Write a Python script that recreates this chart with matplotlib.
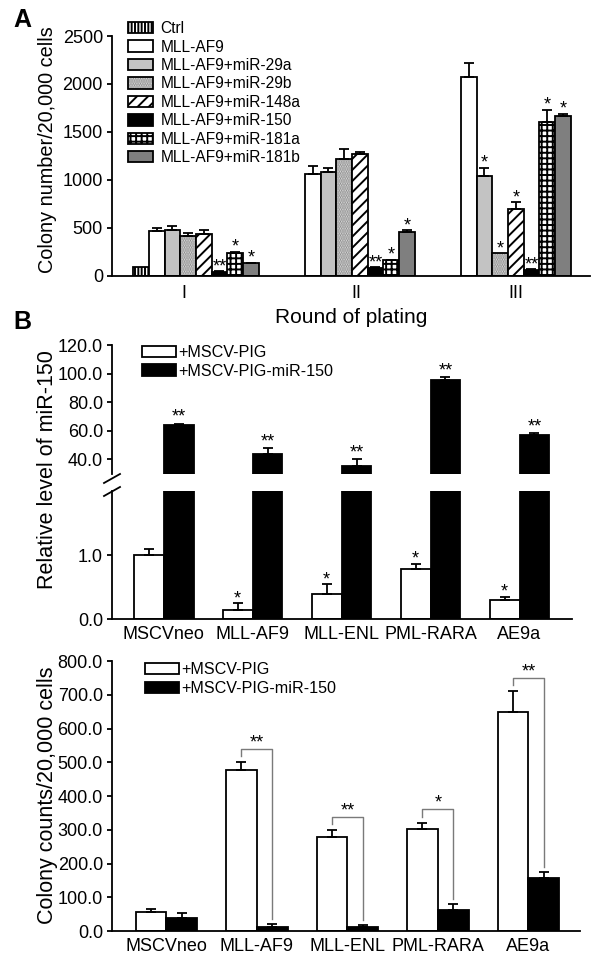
import matplotlib
matplotlib.use('Agg')
import matplotlib.pyplot as plt
from matplotlib.lines import Line2D
import numpy as np

plt.rcParams['font.family'] = ['Liberation Sans', 'DejaVu Sans']
plt.rcParams['hatch.linewidth'] = 1.4

# ---- panel A: colony numbers per round of plating ----
rounds = ['I', 'II', 'III']
series_a = ['Ctrl', 'MLL-AF9', 'MLL-AF9+miR-29a', 'MLL-AF9+miR-29b',
            'MLL-AF9+miR-148a', 'MLL-AF9+miR-150', 'MLL-AF9+miR-181a',
            'MLL-AF9+miR-181b']
ctrl = [85, np.nan, np.nan]
ctrl_err = [0, 0, 0]
mll_af9 = [460, 1060, 2070]
mll_af9_err = [35, 80, 150]
mir29a = [480, 1080, 1040]
mir29a_err = [35, 40, 85]
mir29b = [410, 1220, 230]
mir29b_err = [35, 100, 0]
mir148a = [430, 1270, 690]
mir148a_err = [45, 15, 75]
mir150 = [40, 80, 60]
mir150_err = [5, 5, 5]
mir181a = [235, 160, 1600]
mir181a_err = [15, 5, 130]
mir181b = [130, 450, 1660]
mir181b_err = [5, 25, 30]
stars_29a = ['', '', '*']
stars_29b = ['', '', '*']
stars_148a = ['', '', '*']
stars_150 = ['**', '**', '**']
stars_181a = ['*', '*', '*']
stars_181b = ['*', '*', '*']

# ---- panel B: relative miR-150 level ----
cell_lines = ['MSCVneo', 'MLL-AF9', 'MLL-ENL', 'PML-RARA', 'AE9a']
rel_pig = [1.0, 0.14, 0.39, 0.78, 0.30]
rel_pig_err = [0.1, 0.11, 0.15, 0.08, 0.05]
rel_mir150 = [64.0, 43.5, 35.5, 95.5, 57.0]
rel_mir150_err = [0.8, 4.2, 4.5, 2.0, 1.2]
rel_pig_stars = ['', '*', '*', '*', '*']
rel_mir150_stars = ['**', '**', '**', '**', '**']

# ---- panel C: colony counts ----
col_pig = [57, 478, 280, 303, 650]
col_pig_err = [8, 22, 18, 18, 60]
col_mir150 = [38, 13, 12, 62, 157]
col_mir150_err = [15, 8, 6, 17, 18]
col_stars = ['', '**', '**', '*', '**']

legend_b = ['+MSCV-PIG', '+MSCV-PIG-miR-150']

W, H = 601, 955
fig = plt.figure(figsize=(W / 100, H / 100), dpi=100)


def px_axes(x0, y0, x1, y1):
    return fig.add_axes([x0 / W, 1 - y1 / H, (x1 - x0) / W, (y1 - y0) / H])


def style_axes(ax, bottom=True):
    ax.spines['top'].set_visible(False)
    ax.spines['right'].set_visible(False)
    ax.spines['left'].set_linewidth(1.3)
    ax.spines['bottom'].set_linewidth(1.3)
    if not bottom:
        ax.spines['bottom'].set_visible(False)
    ax.tick_params(axis='y', direction='out', length=3.5, width=1.3, labelsize=13, pad=3)
    ax.tick_params(axis='x', length=0, labelsize=13, pad=5)


def draw_bars(ax, x, vals, width, face, hatch=None, hcolor='black'):
    fill = ax.bar(x, vals, width, color=face, edgecolor=hcolor, hatch=hatch, linewidth=0)
    edge = ax.bar(x, vals, width, facecolor='none', edgecolor='black', linewidth=1.3)
    return fill.patches[0], edge.patches[0]


def draw_err(ax, x, vals, errs):
    x = np.asarray(x, float)
    vals = np.asarray(vals, float)
    errs = np.asarray(errs, float)
    ok = ~np.isnan(vals) & (errs > 0)
    ax.errorbar(x[ok], vals[ok], yerr=[np.zeros(ok.sum()), errs[ok]], fmt='none',
                ecolor='black', elinewidth=1.3, capsize=3.8, capthick=1.3)


def draw_stars(ax, x, vals, errs, stars, dy=0.0):
    for xi, v, e, s in zip(x, vals, errs, stars):
        if s:
            ax.annotate(s, (xi, v + e), xytext=(0, dy), textcoords='offset points',
                        ha='center', va='baseline', fontsize=13)


# ================= Panel A =================
axA = px_axes(112, 36, 590, 275.5)
style_axes(axA)
w = 0.1006
g = np.arange(len(rounds))
vals_a = [ctrl, mll_af9, mir29a, mir29b, mir148a, mir150, mir181a, mir181b]
errs_a = [ctrl_err, mll_af9_err, mir29a_err, mir29b_err, mir148a_err, mir150_err,
          mir181a_err, mir181b_err]
stars_a = [['', '', ''], ['', '', ''], stars_29a, stars_29b, stars_148a, stars_150,
           stars_181a, stars_181b]
styles_a = [
    dict(face='white', hatch='|||||', hcolor='black'),
    dict(face='white'),
    dict(face='#c3c3c3'),
    dict(face='#e2e2e2', hatch='.......', hcolor='#8a8a8a'),
    dict(face='white', hatch='///', hcolor='black'),
    dict(face='black'),
    dict(face='white', hatch='+++', hcolor='black'),
    dict(face='#7f7f7f'),
]
handles_a = []
for k in range(len(series_a)):
    x = g + (k - 3.5) * w
    h = draw_bars(axA, x, vals_a[k], w, **styles_a[k])
    handles_a.append(h)
    draw_err(axA, x, vals_a[k], errs_a[k])
    draw_stars(axA, x, vals_a[k], errs_a[k], stars_a[k])

axA.set_xlim(-0.538, 2.526)
axA.set_ylim(0, 2500)
axA.set_yticks([0, 500, 1000, 1500, 2000, 2500])
axA.set_xticks([-0.08, 1.03, 2.05])
axA.set_xticklabels(rounds)
axA.tick_params(axis='x', pad=7)
axA.set_xlabel('Round of plating', fontsize=15, labelpad=4)
axA.legend(handles_a, series_a, loc='upper left', bbox_to_anchor=(0.033, 1.062),
           frameon=False, fontsize=11.2, handlelength=1.65, handleheight=0.75,
           handletextpad=0.45, labelspacing=0.22, borderpad=0, borderaxespad=0)
fig.text(48 / W, 1 - 150 / H, 'Colony number/20,000 cells', rotation=90,
         ha='center', va='center', fontsize=14.3)
fig.text(22 / W, 1 - 20 / H, 'A', fontsize=18, fontweight='bold', ha='center', va='center')

# ================= Panel B =================
axBu = px_axes(112, 345, 572, 473.7)
axBl = px_axes(112, 491, 572, 619)
style_axes(axBu, bottom=False)
style_axes(axBl)
bw = 0.336
xi = np.arange(len(cell_lines))
for ax in (axBu, axBl):
    hw = draw_bars(ax, xi - bw / 2, rel_pig, bw, 'white')
    hb = draw_bars(ax, xi + bw / 2, rel_mir150, bw, 'black')
    ax.set_xlim(-0.58, 4.59)
draw_err(axBl, xi - bw / 2, rel_pig, rel_pig_err)
draw_stars(axBl, xi - bw / 2, rel_pig, rel_pig_err, rel_pig_stars)
draw_err(axBu, xi + bw / 2, rel_mir150, rel_mir150_err)
draw_stars(axBu, xi + bw / 2, rel_mir150, rel_mir150_err, rel_mir150_stars, dy=1.5)
axBu.set_ylim(30, 120)
axBu.set_yticks([40, 60, 80, 100, 120])
axBu.set_yticklabels(['%.1f' % v for v in [40, 60, 80, 100, 120]])
axBu.set_xticks([])
axBl.set_ylim(0, 2.0)
axBl.set_yticks([0, 1])
axBl.set_yticklabels(['0.0', '1.0'])
axBl.set_xticks(xi)
axBl.set_xticklabels(cell_lines)
axBu.legend([hw, hb], legend_b, loc='upper left', bbox_to_anchor=(0.065, 1.0),
            frameon=False, fontsize=11.6, handlelength=2.1, handleheight=0.72,
            handletextpad=0.15, labelspacing=0.22, borderpad=0, borderaxespad=0)
for (x0, y0, x1, y1) in [(104, 483, 120, 474), (104, 496, 120, 487)]:
    fig.add_artist(Line2D([x0 / W, x1 / W], [1 - y0 / H, 1 - y1 / H],
                          transform=fig.transFigure, color='black', lw=1.3))
fig.text(48 / W, 1 - 470 / H, 'Relative level of miR-150', rotation=90,
         ha='center', va='center', fontsize=15.5)
fig.text(22 / W, 1 - 322 / H, 'B', fontsize=18, fontweight='bold', ha='center', va='center')

# ================= Panel C =================
axC = px_axes(112, 661, 580, 931)
style_axes(axC)
cw = 0.34
xc = np.arange(len(cell_lines))
hw = draw_bars(axC, xc - cw / 2, col_pig, cw, 'white')
hb = draw_bars(axC, xc + cw / 2, col_mir150, cw, 'black')
draw_err(axC, xc - cw / 2, col_pig, col_pig_err)
draw_err(axC, xc + cw / 2, col_mir150, col_mir150_err)
for i, s in enumerate(col_stars):
    if not s:
        continue
    left_end = col_pig[i] + col_pig_err[i] + 18
    right_end = col_mir150[i] + col_mir150_err[i] + 15
    top = left_end + 22
    axC.plot([xc[i] - cw / 2, xc[i] - cw / 2, xc[i] + cw / 2, xc[i] + cw / 2],
             [left_end, top, top, right_end], color='#7a7a7a', lw=1.0)
    axC.annotate(s, (xc[i], top), xytext=(0, 1), textcoords='offset points',
                 ha='center', va='baseline', fontsize=13)
axC.set_xlim(-0.6, 4.57)
axC.set_ylim(0, 800)
axC.set_yticks(np.arange(0, 801, 100))
axC.set_yticklabels(['%.1f' % v for v in np.arange(0, 801, 100)])
axC.set_xticks(xc)
axC.set_xticklabels(cell_lines)
axC.legend([hw, hb], legend_b, loc='upper left', bbox_to_anchor=(0.0705, 0.995),
           frameon=False, fontsize=11.6, handlelength=2.1, handleheight=0.72,
           handletextpad=0.15, labelspacing=0.22, borderpad=0, borderaxespad=0)
fig.text(48 / W, 1 - 795 / H, 'Colony counts/20,000 cells', rotation=90,
         ha='center', va='center', fontsize=15.5)

fig.savefig('out.png', dpi=100)
